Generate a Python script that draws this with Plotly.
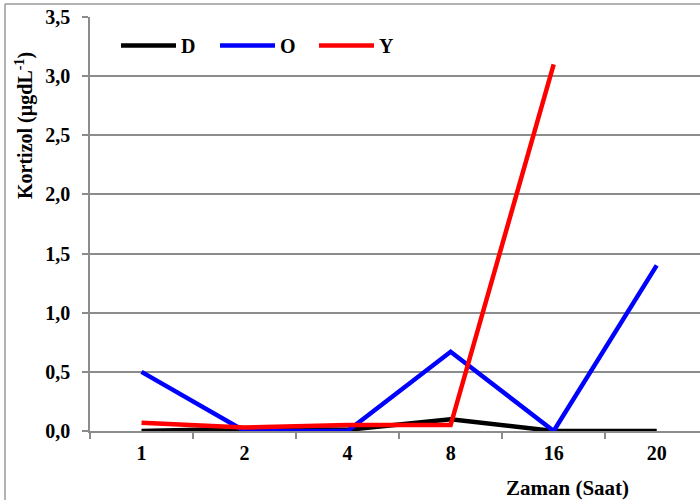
import plotly.graph_objects as go

# Sampling times (hours) and cortisol levels per group
zaman = ["1", "2", "4", "8", "16", "20"]
d_vals = [0.0, 0.02, 0.01, 0.10, 0.0, 0.0]
o_vals = [0.50, 0.0, 0.0, 0.67, 0.0, 1.40]
y_vals = [0.07, 0.03, 0.05, 0.05, 3.10, None]

series = [("D", d_vals, "#000000"), ("O", o_vals, "#0000FF"), ("Y", y_vals, "#FF0000")]
y_ticks = [0.0, 0.5, 1.0, 1.5, 2.0, 2.5, 3.0, 3.5]

FONT = "Liberation Serif"
GRID = "#8c8c8c"

fig = go.Figure()
for name, vals, color in series:
    fig.add_trace(go.Scatter(
        x=zaman, y=vals, name=name, mode="lines",
        line=dict(color=color, width=4.5),
        connectgaps=False,
    ))

W, H = 700, 500
L, R, T, B = 90, 0, 17, 69
pw, ph = W - L - R, H - T - B

fig.update_layout(
    width=W, height=H,
    margin=dict(l=L, r=R, t=T, b=B),
    paper_bgcolor="white", plot_bgcolor="white",
    separators=",.",
    font=dict(family=FONT, size=16, color="black"),
    showlegend=True,
    legend=dict(
        orientation="h", x=(116 - L) / pw, y=1 - (26 - T) / ph,
        xanchor="left", yanchor="top",
        font=dict(family=FONT, size=20, color="black", weight="bold"),
        itemwidth=55, bgcolor="rgba(0,0,0,0)",
        entrywidth=29, entrywidthmode="pixels",
        tracegroupgap=0,
    ),
    xaxis=dict(
        type="category", range=[-0.5, 5.42],
        showgrid=False, showline=True, linecolor=GRID, linewidth=1.5,
        ticks="outside", tickson="boundaries", ticklen=6, tickcolor=GRID, tickwidth=1.5,
        tickfont=dict(family=FONT, size=20, color="black", weight="bold"),
        ticklabelstandoff=3,
        zeroline=False,
    ),
    yaxis=dict(
        range=[0, 3.5], tickvals=y_ticks, tickformat=".1f",
        showgrid=True, gridcolor=GRID, gridwidth=1.5,
        showline=True, linecolor=GRID, linewidth=1.5,
        ticks="outside", ticklen=6, tickcolor=GRID, tickwidth=1.5,
        tickfont=dict(family=FONT, size=20, color="black", weight="bold"),
        ticklabelstandoff=8,
        zeroline=False,
    ),
    annotations=[
        dict(text="Zaman (Saat)", xref="paper", yref="paper",
             x=(567 - L) / pw, y=-(488 - (T + ph)) / ph,
             xanchor="center", yanchor="middle", showarrow=False,
             font=dict(family=FONT, size=21, color="black", weight="bold")),
        dict(text="Kortizol (µgdL<sup>-1</sup>)", xref="paper", yref="paper",
             x=-(L - 24) / pw, y=1 - (126 - T) / ph, textangle=-90,
             xanchor="center", yanchor="middle", showarrow=False,
             font=dict(family=FONT, size=20, color="black", weight="bold")),
    ],
    shapes=[
        # outer chart frame
        dict(type="line", xref="paper", yref="paper",
             x0=-(L - 5) / pw, x1=1.05, y0=1 + (T - 4) / ph, y1=1 + (T - 4) / ph,
             line=dict(color="#9a9a9a", width=1.5)),
        dict(type="line", xref="paper", yref="paper",
             x0=-(L - 5) / pw, x1=-(L - 5) / pw, y0=1 + (T - 4) / ph, y1=-0.2,
             line=dict(color="#9a9a9a", width=1.5)),
    ],
)

fig.write_html("out.html")
